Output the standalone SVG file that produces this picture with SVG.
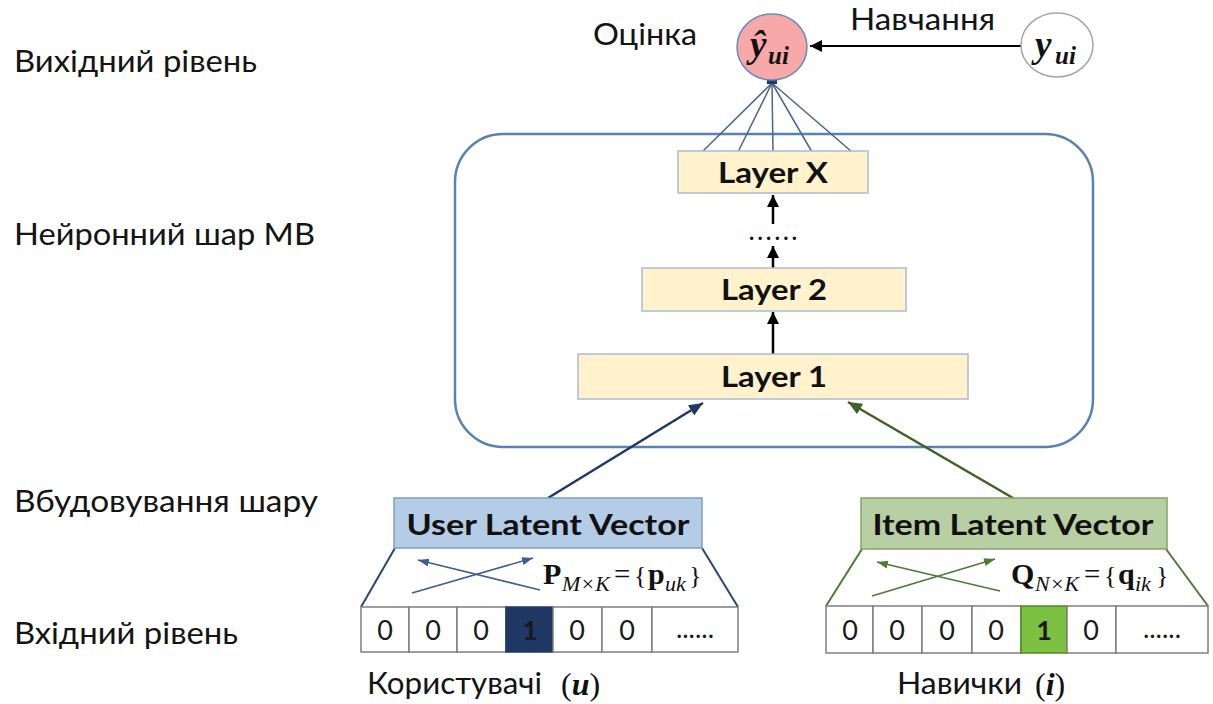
<svg xmlns="http://www.w3.org/2000/svg" width="1213" height="704" viewBox="0 0 1213 704">
  <style>
    .lbl { font-family: Lato, "Liberation Sans", sans-serif; font-size: 30px; fill: #141414; }
    .bold { font-family: Lato, "Liberation Sans", sans-serif; font-weight: bold; fill: #111; }
    .layer { fill: #fff2cc; stroke: #a9bcd6; stroke-width: 1.5; }
    .cell { fill: #ffffff; stroke: #7f7f7f; stroke-width: 1.5; }
    .digit { font-family: Lato, "Liberation Sans", sans-serif; font-size: 27px; fill: #1a1a1a; text-anchor: middle; }
    .math { font-family: "Liberation Serif", "Times New Roman", serif; fill: #111; }
    .fan { stroke: #4a6590; stroke-width: 1.5; fill: none; }
    .up { stroke: #000; stroke-width: 2.5; marker-end: url(#arrBlack); }
  </style>
  <defs>
    <marker id="arrBlack" markerUnits="userSpaceOnUse" markerWidth="14" markerHeight="14" refX="12" refY="7" orient="auto">
      <path d="M0,1 L12,7 L0,13 Z" fill="#000"/>
    </marker>
    <marker id="arrNavy" markerUnits="userSpaceOnUse" markerWidth="16" markerHeight="14" refX="14" refY="7" orient="auto">
      <path d="M0,1 L14,7 L0,13 Z" fill="#1f3864"/>
    </marker>
    <marker id="arrGreen" markerUnits="userSpaceOnUse" markerWidth="16" markerHeight="14" refX="14" refY="7" orient="auto">
      <path d="M0,1 L14,7 L0,13 Z" fill="#3e6326"/>
    </marker>
    <marker id="arrSteel" markerUnits="userSpaceOnUse" markerWidth="12" markerHeight="10" refX="11" refY="5" orient="auto">
      <path d="M0,1 L11,5 L0,9 Z" fill="#3f5d8e"/>
    </marker>
    <marker id="arrOlive" markerUnits="userSpaceOnUse" markerWidth="12" markerHeight="10" refX="11" refY="5" orient="auto">
      <path d="M0,1 L11,5 L0,9 Z" fill="#4d7a35"/>
    </marker>
  </defs>

  <rect width="1213" height="704" fill="#ffffff"/>

  <!-- level captions on the left -->
  <g id="captions">
    <text class="lbl" x="14" y="72" textLength="243" lengthAdjust="spacingAndGlyphs">Вихідний рівень</text>
    <text class="lbl" x="14" y="245" textLength="301" lengthAdjust="spacingAndGlyphs">Нейронний шар МВ</text>
    <text class="lbl" x="14" y="512" textLength="304" lengthAdjust="spacingAndGlyphs">Вбудовування шару</text>
    <text class="lbl" x="14" y="644" textLength="224" lengthAdjust="spacingAndGlyphs">Вхідний рівень</text>
  </g>

  <!-- neural layers container -->
  <g id="mlp-frame">
    <rect x="455" y="134" width="638" height="313" rx="48" ry="48" fill="none" stroke="#5a82b0" stroke-width="2.5"/>
  </g>

  <g id="connectors">
    <!-- fan from top layer to prediction -->
    <line class="fan" x1="772" y1="83" x2="702" y2="152"/>
    <line class="fan" x1="772" y1="83" x2="738" y2="152"/>
    <line class="fan" x1="772" y1="83" x2="773" y2="152"/>
    <line class="fan" x1="772" y1="83" x2="812" y2="152"/>
    <line class="fan" x1="772" y1="83" x2="852" y2="152"/>
    <rect x="767" y="79" width="10" height="5" fill="#1f3864"/>
    <!-- training signal -->
    <line x1="1021" y1="46" x2="810" y2="46" stroke="#000" stroke-width="2" marker-end="url(#arrBlack)"/>
    <!-- stacked layer arrows -->
    <line class="up" x1="773" y1="354" x2="773" y2="312"/>
    <line class="up" x1="773" y1="268" x2="773" y2="246"/>
    <line class="up" x1="773" y1="224" x2="773" y2="195"/>
    <!-- embeddings into first layer -->
    <line x1="548" y1="498" x2="703" y2="403" stroke="#1f3864" stroke-width="2.5" marker-end="url(#arrNavy)"/>
    <line x1="1013" y1="498" x2="848" y2="402" stroke="#3e6326" stroke-width="2.5" marker-end="url(#arrGreen)"/>
    <!-- projection funnels -->
    <line x1="395" y1="548" x2="361" y2="607" stroke="#2b4577" stroke-width="2"/>
    <line x1="702" y1="548" x2="738" y2="607" stroke="#2b4577" stroke-width="2"/>
    <line x1="862" y1="549" x2="826" y2="606" stroke="#4d7a35" stroke-width="2"/>
    <line x1="1166" y1="549" x2="1208" y2="606" stroke="#4d7a35" stroke-width="2"/>
    <!-- crossed lookup arrows -->
    <line x1="412" y1="593" x2="533" y2="558" stroke="#3f5d8e" stroke-width="1.5" marker-end="url(#arrSteel)"/>
    <line x1="540" y1="590" x2="418" y2="560" stroke="#3f5d8e" stroke-width="1.5" marker-end="url(#arrSteel)"/>
    <line x1="872" y1="596" x2="995" y2="559" stroke="#4d7a35" stroke-width="1.5" marker-end="url(#arrOlive)"/>
    <line x1="1000" y1="591" x2="877" y2="562" stroke="#4d7a35" stroke-width="1.5" marker-end="url(#arrOlive)"/>
  </g>

  <!-- dots between layers -->
  <g id="ellipsis">
    <text class="bold" x="773" y="240" font-size="22" text-anchor="middle" fill="#1f3864" textLength="48" lengthAdjust="spacing">......</text>
  </g>

  <g id="layer-x">
    <rect class="layer" x="678" y="151" width="190" height="42"/>
    <text class="bold" x="773" y="183" font-size="28" text-anchor="middle" textLength="110" lengthAdjust="spacingAndGlyphs">Layer X</text>
  </g>
  <g id="layer-2">
    <rect class="layer" x="642" y="268" width="264" height="43"/>
    <text class="bold" x="774" y="300" font-size="28" text-anchor="middle" textLength="106" lengthAdjust="spacingAndGlyphs">Layer 2</text>
  </g>
  <g id="layer-1">
    <rect class="layer" x="578" y="354" width="390" height="45"/>
    <text class="bold" x="774" y="387" font-size="28" text-anchor="middle" textLength="106" lengthAdjust="spacingAndGlyphs">Layer 1</text>
  </g>

  <!-- prediction node -->
  <g id="prediction">
    <ellipse cx="772" cy="47" rx="35" ry="33" fill="#f7a8a8" stroke="#6d8bbd" stroke-width="1.5"/>
    <text class="math" x="750" y="57" font-size="37" font-weight="bold" font-style="italic">ŷ</text>
    <text class="math" x="768" y="64" font-size="25" font-weight="bold" font-style="italic">ui</text>
    <text class="lbl" x="593" y="45" textLength="104" lengthAdjust="spacingAndGlyphs">Оцінка</text>
  </g>

  <!-- ground truth node -->
  <g id="target">
    <ellipse cx="1057" cy="45" rx="36" ry="32" fill="#ffffff" stroke="#a6a6a6" stroke-width="1.5"/>
    <text class="math" x="1035" y="57" font-size="37" font-weight="bold" font-style="italic">y</text>
    <text class="math" x="1055" y="64" font-size="25" font-weight="bold" font-style="italic">ui</text>
    <text class="lbl" x="850" y="30" textLength="145" lengthAdjust="spacingAndGlyphs">Навчання</text>
  </g>

  <!-- user embedding -->
  <g id="user-latent">
    <rect x="394" y="498" width="308" height="50" fill="#b4cce5" stroke="#7f9ec6" stroke-width="1.5"/>
    <text class="bold" x="548" y="535" font-size="28" text-anchor="middle" textLength="283" lengthAdjust="spacingAndGlyphs">User Latent Vector</text>
    <text class="math" y="584">
      <tspan x="543" font-size="30" font-weight="bold">P</tspan>
      <tspan x="562" y="591" font-size="22" font-style="italic">M×K</tspan>
      <tspan x="614" y="584" font-size="29">=</tspan>
      <tspan x="634" font-size="26">{</tspan>
      <tspan x="648" font-size="30" font-weight="bold">p</tspan>
      <tspan x="665" y="591" font-size="22" font-style="italic">uk</tspan>
      <tspan x="689" y="584" font-size="26">}</tspan>
    </text>
  </g>

  <!-- item embedding -->
  <g id="item-latent">
    <rect x="861" y="498" width="306" height="51" fill="#b8cea3" stroke="#86a36c" stroke-width="1.5"/>
    <text class="bold" x="1013" y="535" font-size="28" text-anchor="middle" textLength="281" lengthAdjust="spacingAndGlyphs">Item Latent Vector</text>
    <text class="math" y="584">
      <tspan x="1011" font-size="30" font-weight="bold">Q</tspan>
      <tspan x="1035" y="591" font-size="22" font-style="italic">N×K</tspan>
      <tspan x="1084" y="584" font-size="29">=</tspan>
      <tspan x="1104" font-size="26">{</tspan>
      <tspan x="1118" font-size="30" font-weight="bold">q</tspan>
      <tspan x="1135" y="591" font-size="22" font-style="italic">ik</tspan>
      <tspan x="1156" y="584" font-size="26">}</tspan>
    </text>
  </g>

  <!-- user one-hot input -->
  <g id="user-input">
    <rect class="cell" x="361" y="607" width="48" height="45"/>
    <rect class="cell" x="409" y="607" width="48" height="45"/>
    <rect class="cell" x="457" y="607" width="49" height="45"/>
    <rect x="506" y="607" width="47" height="45" fill="#1f3864" stroke="#1f3864" stroke-width="1.5"/>
    <rect class="cell" x="553" y="607" width="49" height="45"/>
    <rect class="cell" x="602" y="607" width="50" height="45"/>
    <rect class="cell" x="652" y="607" width="86" height="45"/>
    <text class="digit" x="385" y="640">0</text>
    <text class="digit" x="433" y="640">0</text>
    <text class="digit" x="481" y="640">0</text>
    <text class="digit" x="530" y="640" font-weight="bold" fill="#ffffff">1</text>
    <text class="digit" x="577" y="640">0</text>
    <text class="digit" x="627" y="640">0</text>
    <text class="digit" x="695" y="638" font-size="18">......</text>
    <text class="lbl" x="367" y="694" textLength="175" lengthAdjust="spacingAndGlyphs">Користувачі</text>
    <text class="math" x="561" y="695" font-size="32">(<tspan font-weight="bold" font-style="italic">u</tspan>)</text>
  </g>

  <!-- item one-hot input -->
  <g id="item-input">
    <rect class="cell" x="826" y="606" width="47" height="47"/>
    <rect class="cell" x="873" y="606" width="49" height="47"/>
    <rect class="cell" x="922" y="606" width="50" height="47"/>
    <rect class="cell" x="972" y="606" width="49" height="47"/>
    <rect x="1021" y="606" width="46" height="47" fill="#7cc142" stroke="#4e8a2a" stroke-width="1.5"/>
    <rect class="cell" x="1067" y="606" width="49" height="47"/>
    <rect class="cell" x="1116" y="606" width="92" height="47"/>
    <text class="digit" x="850" y="640">0</text>
    <text class="digit" x="897" y="640">0</text>
    <text class="digit" x="947" y="640">0</text>
    <text class="digit" x="996" y="640">0</text>
    <text class="digit" x="1044" y="640" font-weight="bold">1</text>
    <text class="digit" x="1091" y="640">0</text>
    <text class="digit" x="1162" y="638" font-size="18">......</text>
    <text class="lbl" x="897" y="694" textLength="125" lengthAdjust="spacingAndGlyphs">Навички</text>
    <text class="math" x="1035" y="695" font-size="32">(<tspan font-weight="bold" font-style="italic">i</tspan>)</text>
  </g>
</svg>
